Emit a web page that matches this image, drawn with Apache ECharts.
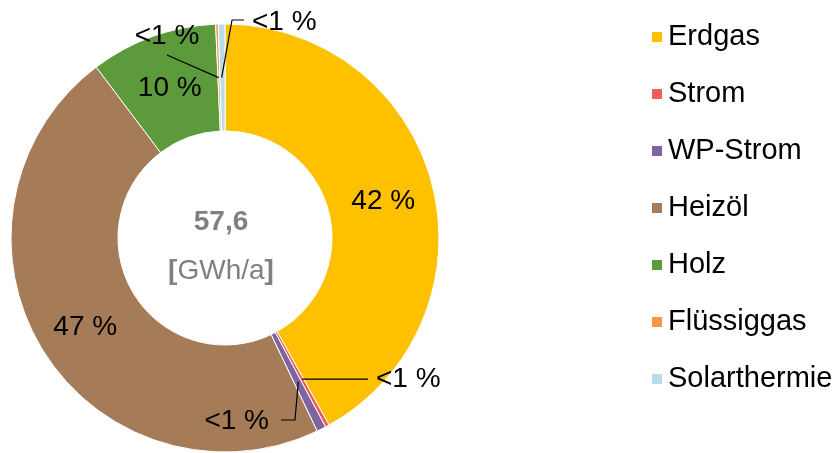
<!DOCTYPE html>
<html>
<head>
<meta charset="utf-8">
<script src="https://cdn.jsdelivr.net/npm/echarts@6/dist/echarts.min.js"></script>
<style>
  html, body { margin: 0; padding: 0; background: #fff; }
  #chart { width: 833px; height: 453px; }
</style>
</head>
<body>
<div id="chart"></div>
<script>
// Energieträger und Anteile (in %)
const categories = ["Erdgas", "Strom", "WP-Strom", "Heizöl", "Holz", "Flüssiggas", "Solarthermie"];
const shares = [42.0, 0.3, 0.7, 46.9, 9.6, 0.2, 0.5];
const colors = ["#FFC000", "#EE5F5B", "#8064A2", "#A67B57", "#5C9A3C", "#F79646", "#B7DEE8"];
const totalText = "57,6";
const unitText = "GWh/a";

const FONT = 'Arial, "Liberation Sans", sans-serif';
const CENTER = [225, 238];
const RADIUS = [107, 214];

// kleine Anteile bekommen Beschriftung mit Führungslinie
const callouts = {
  1: { x: 376, align: "left", bend: (s) => [[368, s[1]]] },
  2: { x: 269, y: 421, align: "right", bend: (s) => [[295, 420], [281, 420]] },
  5: { x: 167, y: 36, align: "center", bend: (s) => [[167, 55]] },
  6: { x: 252, y: 22, align: "left", bend: (s) => [[232, 20], [244, 20]] },
};

const chart = echarts.init(document.getElementById("chart"));

// sichtbare Ringsegmente
const sectorData = categories.map((name, i) => ({
  name: name,
  value: shares[i],
  itemStyle: { color: colors[i] },
}));

// unsichtbare Kopie darüber, nur für Beschriftungen + Linien (liegen so über den Segmenten)
const labelData = categories.map((name, i) => {
  const small = shares[i] < 1;
  return {
    name: name,
    value: shares[i],
    label: { position: small ? "outside" : "inside" },
    labelLine: { show: small },
  };
});

chart.setOption({
  animation: false,
  legend: {
    orient: "vertical",
    left: 645,
    top: 17,
    itemWidth: 12,
    itemHeight: 12,
    itemGap: 27,
    icon: "rect",
    data: categories,
    textStyle: {
      fontFamily: FONT,
      fontSize: 29,
      lineHeight: 30,
      color: "#000",
    },
  },
  graphic: [
    {
      type: "text",
      z: 10,
      style: {
        text: totalText,
        x: 221,
        y: 222,
        textAlign: "center",
        textVerticalAlign: "middle",
        fontFamily: FONT,
        fontSize: 28,
        fontWeight: "bold",
        fill: "#808080",
      },
    },
    {
      type: "text",
      z: 10,
      style: {
        text: "{b|[}" + unitText + "{b|]}",
        x: 221,
        y: 271,
        textAlign: "center",
        textVerticalAlign: "middle",
        fontFamily: FONT,
        fontSize: 28,
        fill: "#808080",
        rich: {
          b: { fontFamily: FONT, fontSize: 28, fontWeight: "bold", color: "#808080" },
        },
      },
    },
  ],
  series: [
    {
      type: "pie",
      center: CENTER,
      radius: RADIUS,
      startAngle: 90,
      clockwise: true,
      silent: true,
      itemStyle: { borderColor: "#fff", borderWidth: 1 },
      label: { show: false },
      labelLine: { show: false },
      data: sectorData,
    },
    {
      type: "pie",
      z: 5,
      center: CENTER,
      radius: RADIUS,
      startAngle: 90,
      clockwise: true,
      silent: true,
      avoidLabelOverlap: false,
      legendHoverLink: false,
      itemStyle: { color: "rgba(0,0,0,0)", borderWidth: 0 },
      label: {
        show: true,
        fontFamily: FONT,
        fontSize: 28,
        color: "#000",
        formatter: (p) => (p.percent < 1 ? "<1 %" : Math.round(p.percent) + " %"),
      },
      labelLine: {
        show: true,
        lineStyle: { color: "#000", width: 1.2 },
      },
      labelLayout: (params) => {
        const c = callouts[params.dataIndex];
        if (!c) return { dy: 4 };
        const r = params.rect;
        const s = [r.x + r.width / 2, r.y + r.height / 2];
        return {
          x: c.x,
          y: c.y != null ? c.y : s[1],
          align: c.align,
          verticalAlign: "middle",
          labelLinePoints: [s].concat(c.bend(s)),
        };
      },
      data: labelData,
    },
  ],
});
</script>
</body>
</html>
